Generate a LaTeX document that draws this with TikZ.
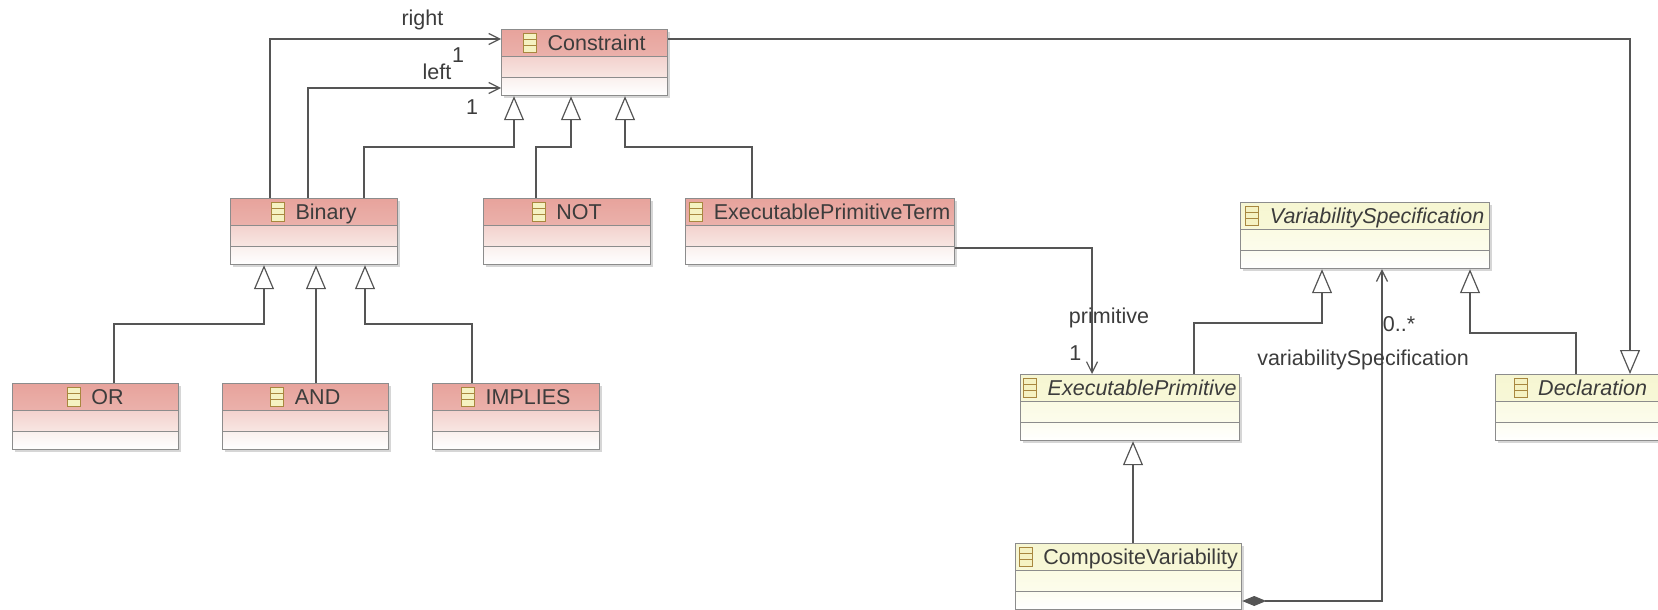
\documentclass[tikz,border=0pt]{standalone}
\usepackage{fontspec}
\setmainfont{Liberation Sans}
\usetikzlibrary{arrows.meta,shadows}
\definecolor{rA}{HTML}{E7A39C}
\definecolor{rB}{HTML}{F1C6C1}
\definecolor{rC}{HTML}{F3D2CE}
\definecolor{rD}{HTML}{F8E6E3}
\definecolor{rE}{HTML}{FAF0EE}
\definecolor{yA}{HTML}{F6F6D2}
\definecolor{yB}{HTML}{FAFADF}
\definecolor{yC}{HTML}{FBFBE4}
\definecolor{yD}{HTML}{FCFCEC}
\definecolor{yE}{HTML}{FDFDF1}
\definecolor{bdr}{HTML}{8C8C8C}
\definecolor{lnc}{HTML}{555555}
\definecolor{txt}{HTML}{3C3C3C}
\definecolor{icoF}{HTML}{F5F2C2}
\definecolor{icoD}{HTML}{A8873F}
\tikzset{%
    cls/.style={rectangle, draw=bdr, line width=1.2pt, anchor=north west, minimum height=66pt, inner sep=0pt,
        drop shadow={opacity=1, fill=black!16, shadow xshift=2.5pt, shadow yshift=-2.5pt}},
    shd/.style n args={6}{path picture={
        \shade[top color=#1, bottom color=#2] (path picture bounding box.north west) rectangle ([yshift=-27pt]path picture bounding box.north east);
        \shade[top color=#3, bottom color=#4] ([yshift=-27pt]path picture bounding box.north west) rectangle ([yshift=-48pt]path picture bounding box.north east);
        \shade[top color=#5, bottom color=#6] ([yshift=-48pt]path picture bounding box.north west) rectangle (path picture bounding box.south east);
        \draw[bdr, line width=1.2pt] ([yshift=-27pt]path picture bounding box.north west) -- ([yshift=-27pt]path picture bounding box.north east)
            ([yshift=-48pt]path picture bounding box.north west) -- ([yshift=-48pt]path picture bounding box.north east);}},
    rcls/.style={cls, shd={rA}{rB}{rC}{rD}{rE}{white}},
    ycls/.style={cls, shd={yA}{yB}{yC}{yD}{yE}{white}},
    ttl/.style={inner sep=0pt, text height=15.4pt, text depth=0pt, text=txt},
    ico/.style={draw=icoD, fill=icoF, line width=0.9pt},
    lnk/.style={draw=lnc, line width=1.2pt},
    asc/.style={lnk, -{Straight Barb[length=11pt,width=11pt]}},
    gen/.style={lnk, -{Triangle[length=24pt,width=20pt,fill=white]}},
    cmp/.style={lnk, {Diamond[length=24pt,width=10pt,fill=lnc]}-{Straight Barb[length=11pt,width=11pt]}},
    lbl/.style={inner sep=0pt, text=txt}
}
\newcommand\ecls[6]{%
    \node[#5, minimum width=#4pt] (#1) at (#2,#3) {};
    \node[ttl] (#1-t) at ([yshift=-13.5pt]#1.north) {\kern24pt#6};
    \draw[ico] ([yshift=9.5pt]#1-t.west) rectangle ++(13,19);
    \draw[draw=icoD, line width=0.9pt] ([yshift=3.2pt]#1-t.west) -- ++(13,0) ([yshift=-3.2pt]#1-t.west) -- ++(13,0);
}

\begin{document}
\begin{tikzpicture}[x=1pt, y=-1pt, font=\fontsize{21.5}{26}\selectfont]
    \useasboundingbox (0,0) rectangle (1658,610);
    \ecls{Constraint}{501}{29}{166}{rcls}{Constraint}
    \ecls{Binary}{230}{198}{167}{rcls}{Binary}
    \ecls{NOT}{483}{198}{167}{rcls}{NOT}
    \ecls{EPT}{685}{198}{269}{rcls}{ExecutablePrimitiveTerm}
    \ecls{OR}{12}{383}{166}{rcls}{OR}
    \ecls{AND}{222}{383}{166}{rcls}{AND}
    \ecls{IMP}{432}{383}{167}{rcls}{IMPLIES}
    \ecls{VarSpec}{1240}{202}{249}{ycls}{\itshape VariabilitySpecification}
    \ecls{EP}{1020}{374}{219}{ycls}{\itshape ExecutablePrimitive}
    \ecls{Decl}{1495}{374}{170}{ycls}{\itshape Declaration}
    \ecls{CompVar}{1015}{543}{226}{ycls}{CompositeVariability}

    \draw[asc] ([xshift=40pt]Binary.north west) |- ([yshift=-10pt]Constraint.north west)
        node[lbl, pos=.83, above=8pt] (rgt) {right} node[lbl, pos=.907, below=8pt] (rgtm) {1};
    \draw[asc] ([xshift=78pt]Binary.north west) |- ([yshift=-59pt]Constraint.north west)
        node[lbl, pos=.834, above=8pt] (lft) {left} node[lbl, pos=.925, below=11pt] (lftm) {1};
    \draw[gen] ([xshift=134pt]Binary.north west) -- ++(0,-51) -| ([xshift=13pt]Constraint.south west);
    \draw[gen] ([xshift=53pt]NOT.north west) -- ++(0,-51) -| ([xshift=70pt]Constraint.south west);
    \draw[gen] ([xshift=67pt]EPT.north west) -- ++(0,-51) -| ([xshift=124pt]Constraint.south west);
    \draw[gen] ([xshift=102pt]OR.north west) -- ++(0,-59) -| ([xshift=34pt]Binary.south west);
    \draw[gen] ([xshift=94pt]AND.north west) -- ([xshift=86pt]Binary.south west);
    \draw[gen] ([xshift=40pt]IMP.north west) -- ++(0,-59) -| ([xshift=135pt]Binary.south west);
    \draw[gen] ([yshift=-10pt]Constraint.north east) -| ([xshift=135pt]Decl.north west);
    \draw[gen] ([xshift=174pt]EP.north west) -- ++(0,-51) -| ([xshift=82pt]VarSpec.south west);
    \draw[gen] ([xshift=81pt]Decl.north west) -- ++(0,-41) -| ([xshift=230pt]VarSpec.south west);
    \draw[gen] ([xshift=118pt]CompVar.north west) -- ([xshift=113pt]EP.south west);
    \draw[asc] ([yshift=-50pt]EPT.north east) -| ([xshift=72pt]EP.north west)
        node[lbl, pos=.778, xshift=17pt] (prim) {primitive} node[lbl, pos=.917, left=10pt] (primm) {1};
    \draw[cmp] ([yshift=-58pt]CompVar.north east) -| ([xshift=142pt]VarSpec.south west)
        node[lbl, pos=.917, xshift=17pt] (vsm) {0..*} node[lbl, pos=.863, xshift=-19pt] (vs) {variabilitySpecification};
\end{tikzpicture}
\end{document}
